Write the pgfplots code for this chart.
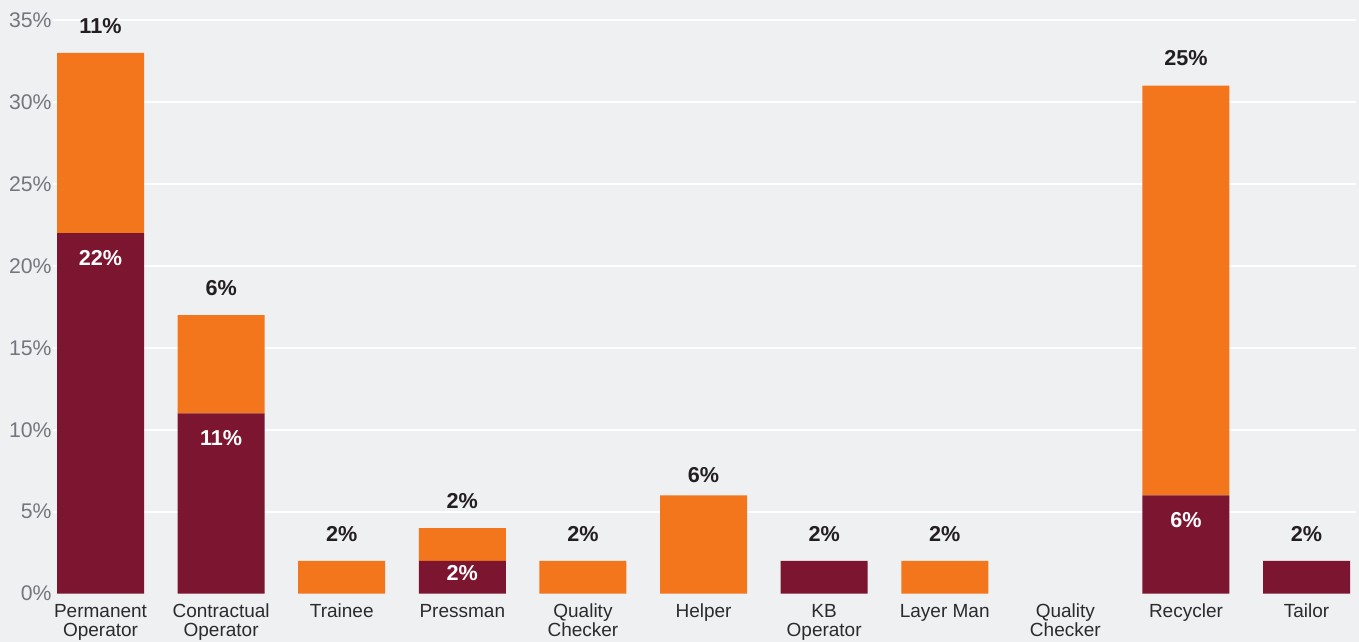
\documentclass[border=0pt]{standalone}
\usepackage{pgfplots}
\pgfplotsset{compat=1.18}
\usepackage{pgfplotstable}
\usepackage{fontspec}
\setmainfont{Liberation Sans}

\definecolor{bgc}{HTML}{EFF0F2}
\definecolor{barorange}{HTML}{F4761C}
\definecolor{barmaroon}{HTML}{7C1530}
\definecolor{ticktext}{HTML}{72777D}
\definecolor{cattext}{HTML}{2B2B2B}
\definecolor{valtext}{HTML}{231F20}

% dark = lower (maroon) segment, orange = upper segment, total = bar height
\pgfplotstableread{
x dark orange total
0  22 11 33
1  11  6 17
2   0  2  2
3   2  2  4
4   0  2  2
5   0  6  6
6   2  0  2
7   0  2  2
8   0  0  0
9   6 25 31
10  2  0  2
}\roles

\pgfplotsset{
  frame/.style={
    scale only axis,
    width=651.5pt, height=286.85pt,
    xmin=-0.394, xmax=10.41, ymin=0, ymax=35,
    enlargelimits=false, clip=false,
    /pgf/number format/assume math mode=true,
  },
  vallabel/.style={draw=none, mark=none, point meta=explicit,
    nodes near coords={\pgfmathprintnumber{\pgfplotspointmeta}\%},
    every node near coord/.append style={font=\fontsize{10.8}{12}\selectfont\bfseries, anchor=center}},
}

\begin{document}
\begin{tikzpicture}
\path[use as bounding box, fill=bgc] (-26.5pt,-24.15pt) rectangle (653pt,296.85pt);
\begin{axis}[
  frame,
  ybar stacked, bar width=43.5pt,
  axis line style={draw=none},
  major tick length=0pt, minor tick length=0pt,
  ytick={0,5,...,35},
  minor ytick={5,10,...,35},
  yminorgrids=true,
  minor grid style={white, line width=1pt},
  yticklabel={\pgfmathprintnumber{\tick}\%},
  yticklabel style={font=\fontsize{10.6}{12}\selectfont, text=ticktext, inner xsep=0pt, xshift=-0.5pt},
  xtick={0,...,10},
  xticklabels={{Permanent\\Operator},{Contractual\\Operator},Trainee,Pressman,{Quality\\Checker},Helper,{KB\\Operator},{Layer Man},{Quality\\Checker},Recycler,Tailor},
  xticklabel style={font=\fontsize{9.5}{9.6}\selectfont, text=cattext, align=center, anchor=north, yshift=-1.6pt},
]
\addplot[fill=barmaroon, draw=none] table[x=x, y=dark] {\roles};
\addplot[fill=barorange, draw=none] table[x=x, y=orange] {\roles};
\end{axis}

% value labels
\begin{axis}[frame, hide axis]
% white labels inside the maroon part
\addplot[vallabel, every node near coord/.append style={text=white, yshift=-12.5pt}]
  coordinates {(0,22) [22] (1,11) [11] (9,6) [6]};
\addplot[vallabel, every node near coord/.append style={text=white, yshift=-6.2pt}]
  coordinates {(3,2) [2]};
% black labels above the bars
\addplot[vallabel, every node near coord/.append style={text=valtext, yshift=13.5pt}]
  coordinates {(0,33) [11] (1,17) [6] (2,2) [2] (3,4) [2] (4,2) [2] (6,2) [2] (7,2) [2] (9,31) [25] (10,2) [2]};
\addplot[vallabel, every node near coord/.append style={text=valtext, yshift=10.3pt}]
  coordinates {(5,6) [6]};
\end{axis}
\end{tikzpicture}
\end{document}
